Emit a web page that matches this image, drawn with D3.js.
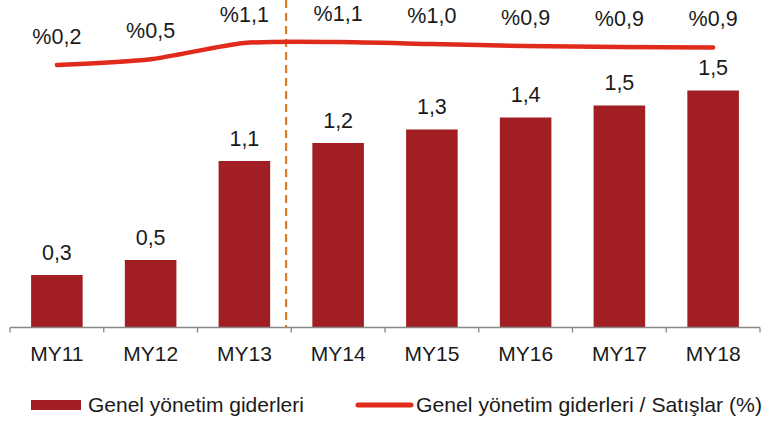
<!DOCTYPE html>
<html>
<head>
<meta charset="utf-8">
<script src="https://cdn.jsdelivr.net/npm/d3@7"></script>
<style>
  html, body { margin: 0; padding: 0; background: #fff; }
  svg { display: block; font-family: "Liberation Sans", Arial, sans-serif; }
</style>
</head>
<body>
<svg id="chart" width="764" height="423"></svg>
<script>
// ---- data ----
const categories = ["MY11", "MY12", "MY13", "MY14", "MY15", "MY16", "MY17", "MY18"];
const expenseValues = [0.35, 0.45, 1.11, 1.23, 1.32, 1.40, 1.48, 1.58];
const expenseLabels = ["0,3", "0,5", "1,1", "1,2", "1,3", "1,4", "1,5", "1,5"];
const ratioValues = [0.2, 0.43, 1.08, 1.12, 1.04, 0.96, 0.92, 0.90];
const ratioLabels = ["%0,2", "%0,5", "%1,1", "%1,1", "%1,0", "%0,9", "%0,9", "%0,9"];
const legendLabels = ["Genel yönetim giderleri", "Genel yönetim giderleri / Satışlar (%)"];
const forecastStart = "MY14";

// ---- styling ----
const barColor = "#A11F22";
const lineColor = "#E02B1C";
const dashColor = "#E07A1E";
const textColor = "#1a1a1a";

const svg = d3.select("#chart");
const baseY = 327.5;

const x = d3.scaleBand().domain(categories).range([10, 760]).paddingInner(0.45).paddingOuter(0.225);
const y = d3.scaleLinear().domain([0, 2]).range([baseY, baseY - 300]);
const y2 = d3.scaleLinear().domain([0, 2]).range([70, 20]);

// bars
svg.append("g").selectAll("rect").data(categories).join("rect")
  .attr("x", d => x(d))
  .attr("width", x.bandwidth())
  .attr("y", (d, i) => y(expenseValues[i]))
  .attr("height", (d, i) => y(0) - y(expenseValues[i]))
  .attr("fill", barColor);

// bar labels
svg.append("g").selectAll("text").data(categories).join("text")
  .attr("x", d => x(d) + x.bandwidth() / 2)
  .attr("y", (d, i) => y(expenseValues[i]) - 15.5)
  .attr("text-anchor", "middle")
  .attr("font-size", 21.5)
  .attr("fill", textColor)
  .text((d, i) => expenseLabels[i]);

// x axis
const band = x.step();
const axis = d3.axisBottom(x).tickSize(0).tickPadding(19);
const gx = svg.append("g").attr("transform", `translate(0,${baseY})`).call(axis);
gx.select(".domain").attr("stroke", "#888").attr("stroke-width", 1.3).attr("d", `M10,0H760`);
gx.selectAll(".tick text").attr("font-size", 21).attr("fill", textColor)
  .attr("font-family", "Liberation Sans, Arial, sans-serif");
// boundary tick marks
const bounds = categories.map(d => x(d) - (band - x.bandwidth()) / 2).concat([760]);
svg.append("g").selectAll("line").data(bounds).join("line")
  .attr("x1", d => d).attr("x2", d => d)
  .attr("y1", baseY).attr("y2", baseY + 5)
  .attr("stroke", "#888").attr("stroke-width", 1.3);

// dashed separator
const sepX = x(forecastStart) - band * 0.28;
svg.append("line")
  .attr("x1", sepX).attr("x2", sepX)
  .attr("y1", 0).attr("y2", baseY)
  .attr("stroke", dashColor).attr("stroke-width", 2.2)
  .attr("stroke-dasharray", "8,5");

// ratio line
const line = d3.line()
  .x((d, i) => x(categories[i]) + x.bandwidth() / 2)
  .y(d => y2(d))
  .curve(d3.curveCardinal.tension(0.3));
svg.append("path")
  .datum(ratioValues)
  .attr("d", line)
  .attr("fill", "none")
  .attr("stroke", lineColor)
  .attr("stroke-width", 4.5)
  .attr("stroke-linecap", "round");

// ratio labels
svg.append("g").selectAll("text").data(categories).join("text")
  .attr("x", d => x(d) + x.bandwidth() / 2)
  .attr("y", (d, i) => y2(ratioValues[i]) - 21.5)
  .attr("text-anchor", "middle")
  .attr("font-size", 21.5)
  .attr("fill", textColor)
  .text((d, i) => ratioLabels[i]);

// legend
const lg = svg.append("g");
lg.append("rect").attr("x", 31).attr("y", 400).attr("width", 50).attr("height", 10).attr("fill", barColor);
lg.append("text").attr("x", 88).attr("y", 412).attr("font-size", 21).attr("fill", textColor).text(legendLabels[0]);
lg.append("line").attr("x1", 358).attr("x2", 411).attr("y1", 405).attr("y2", 405)
  .attr("stroke", lineColor).attr("stroke-width", 5).attr("stroke-linecap", "round");
lg.append("text").attr("x", 416).attr("y", 412).attr("font-size", 21).attr("fill", textColor)
  .attr("textLength", 346).attr("lengthAdjust", "spacingAndGlyphs").text(legendLabels[1]);
</script>
</body>
</html>
